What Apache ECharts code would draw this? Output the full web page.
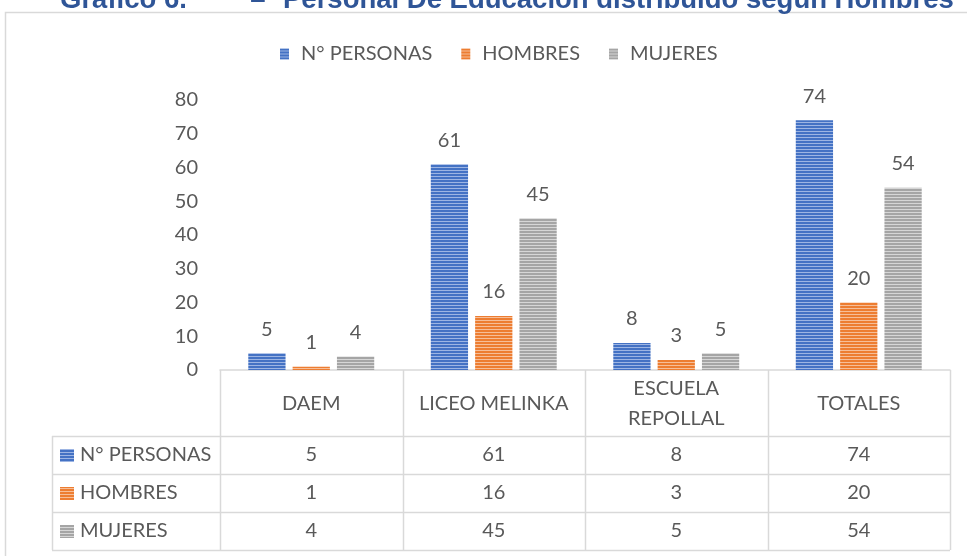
<!DOCTYPE html>
<html>
<head>
<meta charset="utf-8">
<style>html,body{margin:0;padding:0;background:#fff;}#c{width:967px;height:556px;}</style>
<script src="https://cdn.jsdelivr.net/npm/echarts@6/dist/echarts.min.js"></script>
</head>
<body>
<div id="c"></div>
<script>
const categories = ['DAEM', 'LICEO MELINKA', 'ESCUELA\nREPOLLAL', 'TOTALES'];
const seriesNames = ['N° PERSONAS', 'HOMBRES', 'MUJERES'];
const personas = [5, 61, 8, 74];
const hombres = [1, 16, 3, 20];
const mujeres = [4, 45, 5, 54];
const yTicks = [0, 10, 20, 30, 40, 50, 60, 70, 80];
const titleParts = ['Gráfico 6.', '–', 'Personal De Educación distribuido según Hombres'];

const colors = ['#4472C4', '#ED7D31', '#A5A5A5'];
const lights = ['#9DB5E3', '#F6BE98', '#D6D6D6'];
const FONT = 'Lato';
const TXT = '#595959';
const FS = 20;

function stripe(c, l) {
  const cv = document.createElement('canvas');
  cv.width = 4; cv.height = 3;
  const ctx = cv.getContext('2d');
  ctx.fillStyle = c; ctx.fillRect(0, 0, 4, 3);
  ctx.fillStyle = l; ctx.fillRect(0, 2, 4, 1);
  return { image: cv, repeat: 'repeat' };
}
const patterns = colors.map((c, i) => stripe(c, lights[i]));
const allData = [personas, hombres, mujeres];

const gridLeft = 220, gridRight = 950, gridTop = 100, gridBottom = 370;
const band = (gridRight - gridLeft) / categories.length;
const rowLines = [370, 436, 474, 512, 550];
const tableLeft = 52;
const lineColor = '#D9D9D9';

const graphic = [];
// outer frame
graphic.push({ type: 'rect', shape: { x: 5.5, y: 12.5, width: 1000, height: 600 }, style: { fill: 'none', stroke: lineColor, lineWidth: 1.5 }, z: 0 });
// title (clipped at top)
const titleFont = 'bold 27.5px "Liberation Sans", Arial';
const titleX = [60, 258, 283];
const titleAlign = ['left', 'center', 'left'];
titleParts.forEach((t, i) => {
  graphic.push({ type: 'text', x: titleX[i], y: 0, style: { text: t, font: titleFont, fill: '#2F5597', align: titleAlign[i], verticalAlign: 'middle' }, z: 10 });
});
// table vertical lines
for (let i = 0; i <= categories.length; i++) {
  const x = Math.round(gridLeft + band * i) + 0.5;
  graphic.push({ type: 'line', shape: { x1: x, y1: 370, x2: x, y2: 550 }, style: { stroke: lineColor, lineWidth: 1.5 } });
}
graphic.push({ type: 'line', shape: { x1: tableLeft + 0.5, y1: 436, x2: tableLeft + 0.5, y2: 550 }, style: { stroke: lineColor, lineWidth: 1.5 } });
// horizontal lines
for (let r = 1; r < rowLines.length; r++) {
  graphic.push({ type: 'line', shape: { x1: tableLeft, y1: rowLines[r] + 0.5, x2: gridRight, y2: rowLines[r] + 0.5 }, style: { stroke: lineColor, lineWidth: 1.5 } });
}
// header labels
categories.forEach((c, i) => {
  graphic.push({ type: 'text', x: gridLeft + band * (i + 0.5), y: 404, style: { text: c, font: FS + 'px ' + FONT, fill: TXT, align: 'center', verticalAlign: 'middle', lineHeight: 30 } });
});
// rows
seriesNames.forEach((n, r) => {
  const yc = (rowLines[r + 1] + rowLines[r + 2]) / 2;
  graphic.push({ type: 'rect', shape: { x: 60, y: yc - 6, width: 14, height: 13 }, style: { fill: patterns[r] } });
  graphic.push({ type: 'text', x: 80, y: yc, style: { text: n, font: FS + 'px ' + FONT, fill: TXT, align: 'left', verticalAlign: 'middle' } });
  allData[r].forEach((v, i) => {
    graphic.push({ type: 'text', x: gridLeft + band * (i + 0.5), y: yc, style: { text: String(v), font: FS + 'px ' + FONT, fill: TXT, align: 'center', verticalAlign: 'middle' } });
  });
});

const chart = echarts.init(document.getElementById('c'));
chart.setOption({
  animation: false,
  backgroundColor: '#fff',
  legend: {
    top: 39, left: 275,
    itemWidth: 9, itemHeight: 11, itemGap: 29,
    icon: 'rect',
    textStyle: { fontFamily: FONT, fontSize: FS, color: TXT, padding: [0, 0, 0, 7] },
    data: seriesNames
  },
  grid: { left: gridLeft, right: 967 - gridRight, top: gridTop, bottom: 556 - gridBottom },
  xAxis: {
    type: 'category', data: categories,
    axisLine: { lineStyle: { color: lineColor, width: 1.5 } },
    axisTick: { show: false }, axisLabel: { show: false }
  },
  yAxis: {
    type: 'value', min: yTicks[0], max: yTicks[yTicks.length - 1], interval: 10,
    splitLine: { show: false }, axisLine: { show: false }, axisTick: { show: false },
    axisLabel: { fontFamily: FONT, fontSize: FS, color: TXT, margin: 22 }
  },
  series: allData.map((d, i) => ({
    type: 'bar', name: seriesNames[i], data: d,
    barGap: '19%', barCategoryGap: '31%',
    itemStyle: { color: patterns[i] },
    label: { show: true, position: 'top', distance: 14, fontFamily: FONT, fontSize: FS, color: TXT }
  })),
  graphic: graphic
});
</script>
</body>
</html>
